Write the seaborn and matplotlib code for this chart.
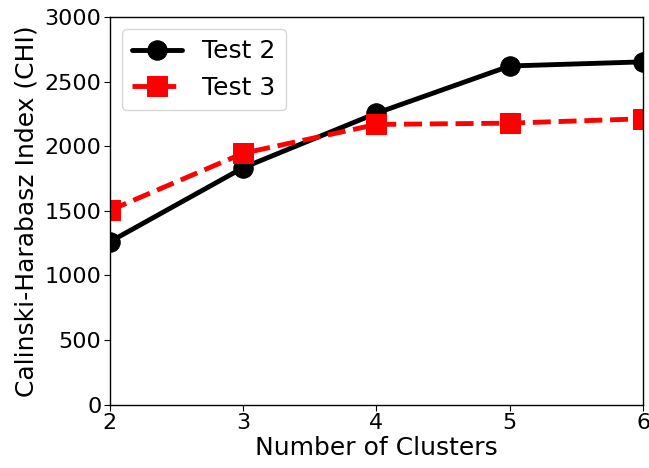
import seaborn as sns
import matplotlib.pyplot as plt

clusters = [2, 3, 4, 5, 6]
test2_chi = [1260, 1833, 2255, 2620, 2652]
test3_chi = [1503, 1945, 2168, 2178, 2212]

sns.set_style("white")
plt.rcParams['font.family'] = ['DejaVu Sans']
plt.rcParams['text.color'] = 'black'
plt.rcParams['axes.labelcolor'] = 'black'
plt.rcParams['xtick.color'] = 'black'
plt.rcParams['ytick.color'] = 'black'

fig, ax = plt.subplots(figsize=(6.49, 4.68), dpi=100)
fig.subplots_adjust(left=0.169, right=0.991, bottom=0.135, top=0.964)

sns.lineplot(x=clusters, y=test2_chi, ax=ax, color='black', linewidth=3.5,
             marker='o', markersize=14, markeredgecolor='black', label='Test 2')
sns.lineplot(x=clusters, y=test3_chi, ax=ax, color='red', linewidth=3.5,
             linestyle='--', marker='s', markersize=14, markeredgecolor='red',
             label='Test 3')

ax.set_xlim(2, 6)
ax.set_ylim(0, 3000)
ax.set_xticks(clusters)
ax.set_xlabel('Number of Clusters', fontsize=18, labelpad=2)
ax.set_ylabel('Calinski-Harabasz Index (CHI)', fontsize=18)
ax.tick_params(labelsize=16, length=4, bottom=True, left=True, pad=2)
for s in ax.spines.values():
    s.set_color('black')
    s.set_linewidth(1)
ax.legend(fontsize=18, loc='upper left', handlelength=2)

plt.savefig('out.png')
